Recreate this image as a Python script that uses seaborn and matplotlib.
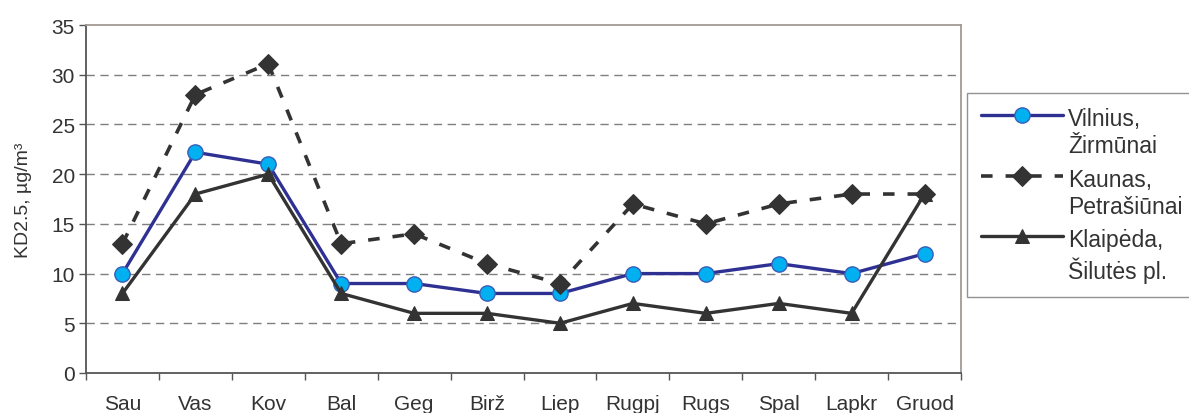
import numpy as np
import pandas as pd
import matplotlib
matplotlib.use("Agg")
import matplotlib.pyplot as plt
from matplotlib.ticker import FixedLocator
import seaborn as sns

months = ["Sau", "Vas", "Kov", "Bal", "Geg", "Birž", "Liep", "Rugpj", "Rugs", "Spal", "Lapkr", "Gruod"]
vilnius = [10, 22.2, 21, 9, 9, 8, 8, 10, 10, 11, 10, 12]
kaunas = [13, 28, 31.1, 13, 14, 11, 9, 17, 15, 17, 18, 18]
klaipeda = [8, 18, 20, 8, 6, 6, 5, 7, 6, 7, 6, 18]
labels = ["Vilnius,\nŽirmūnai", "Kaunas,\nPetrašiūnai", "Klaipėda,\nŠilutės pl."]
y_ticks = [0, 5, 10, 15, 20, 25, 30, 35]

sns.set_theme(style="white")
plt.rcParams["font.family"] = ["Liberation Sans", "DejaVu Sans"]
text_color = "#333333"

fig = plt.figure(figsize=(11.89, 4.14), dpi=100)
ax = fig.add_axes([86 / 1189, 1 - 374 / 414, (961 - 86) / 1189, (374 - 26) / 414])

df = pd.DataFrame({"pos": np.arange(len(months)), "vil": vilnius, "kau": kaunas, "kla": klaipeda})

sns.lineplot(data=df, x="pos", y="vil", ax=ax, color="#2E3192", linewidth=2.4,
             marker="o", markersize=11, markerfacecolor="#00B0F0",
             markeredgecolor="#3A5DB8", markeredgewidth=1.0, label=labels[0], zorder=3)
sns.lineplot(data=df, x="pos", y="kla", ax=ax, color="#333333", linewidth=2.4,
             marker="^", markersize=10, markeredgecolor="#333333", label=labels[2], zorder=4)
sns.lineplot(data=df, x="pos", y="kau", ax=ax, color="#333333", linewidth=2.6,
             marker="D", markersize=10, markeredgecolor="#333333", label=labels[1], zorder=5)
ax.lines[-1].set_linestyle((0, (3.2, 3.6)))

ax.set_xlim(-0.5, len(months) - 0.5)
ax.set_ylim(0, 35)
ax.set_yticks(y_ticks)
ax.set_xticks(np.arange(len(months)))
ax.set_xticklabels(months)
ax.xaxis.set_minor_locator(FixedLocator(np.arange(-0.5, len(months), 1.0)))
ax.tick_params(axis="x", which="major", length=0, pad=15, labelsize=15, labelcolor=text_color)
ax.tick_params(axis="x", which="minor", length=5, width=1, color="#555555", direction="out", bottom=True)
ax.tick_params(axis="y", length=5, width=1, color="#555555", direction="out", left=True,
               labelsize=15, labelcolor=text_color, pad=3)

for y in y_ticks[1:-1]:
    ax.axhline(y, color="#7f7f7f", linewidth=1.0, linestyle=(0, (6, 4)), zorder=1)

ax.set_xlabel("")
ax.set_ylabel("KD2.5, µg/m³", fontsize=14, color=text_color, labelpad=14)

for side in ["left", "bottom"]:
    ax.spines[side].set_color("#555555")
    ax.spines[side].set_linewidth(1.3)
for side in ["top", "right"]:
    ax.spines[side].set_color("#a39a94")
    ax.spines[side].set_linewidth(1.3)

handles, lbls = ax.get_legend_handles_labels()
order = [lbls.index(l) for l in labels]
ax.get_legend().remove()
leg = fig.legend([handles[i] for i in order], [lbls[i] for i in order],
                 loc="upper left", bbox_to_anchor=(967 / 1189, 1 - 94 / 414),
                 fontsize=16.5, frameon=True, fancybox=False, handlelength=3.6,
                 handletextpad=0.2, labelspacing=0.45, borderpad=0.6, borderaxespad=0)
leg.get_frame().set_edgecolor("#777777")
leg.get_frame().set_linewidth(1.0)
for t in leg.get_texts():
    t.set_color(text_color)
    t.set_linespacing(1.25)
# put each legend line next to the first text line of its entry
for column in leg._legend_handle_box.get_children():
    for row in column.get_children():
        row.align = "top"

fig.savefig("out.png", dpi=100)
